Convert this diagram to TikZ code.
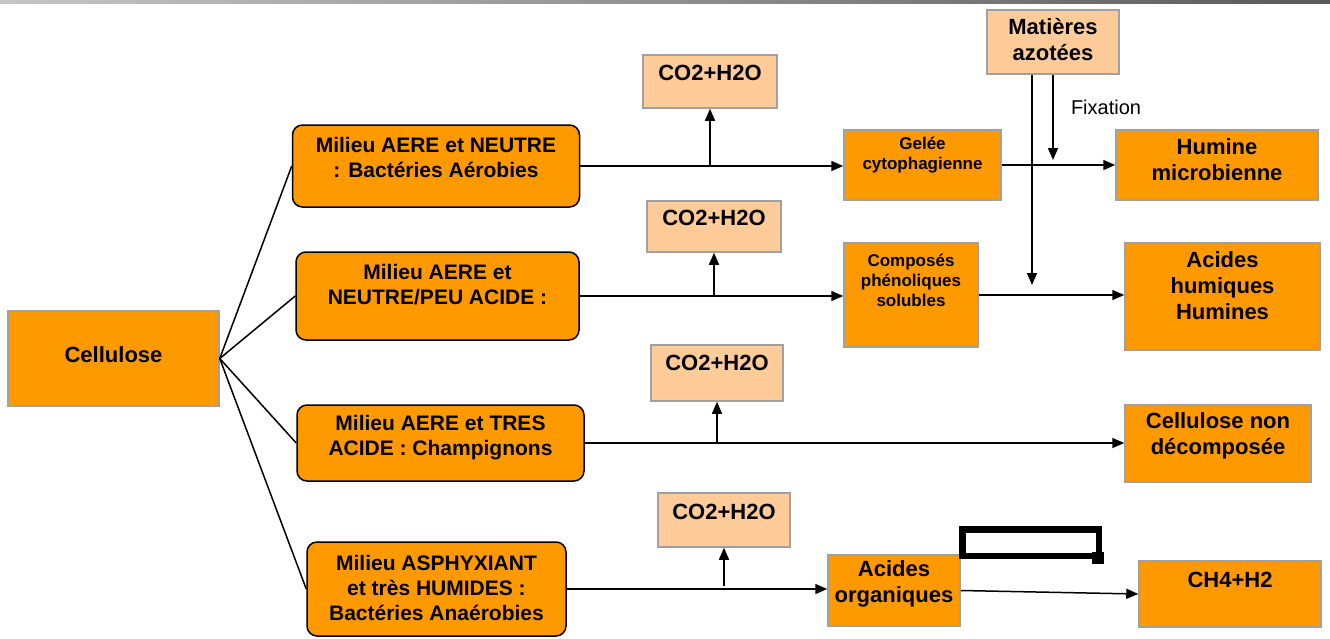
\documentclass[tikz,border=0pt]{standalone}
\usepackage{fontspec}
\setmainfont{Liberation Sans}
\usetikzlibrary{arrows.meta,calc}
\definecolor{orangeF}{HTML}{FF9900}
\definecolor{lightO}{HTML}{FFCC99}
\definecolor{grayB}{HTML}{A0A0A0}
\tikzset{
  obox/.style={rectangle,fill=orangeF,draw=grayB,line width=1.5pt,inner sep=0pt},
  lbox/.style={rectangle,fill=lightO,draw=grayB,line width=1.5pt,inner sep=0pt},
  mbox/.style={rectangle,rounded corners=10pt,fill=orangeF,draw=black,line width=1.5pt,inner sep=0pt},
  big/.style={align=center,inner sep=0pt,font=\fontsize{22}{26}\selectfont\bfseries},
  mid/.style={align=center,inner sep=0pt,font=\fontsize{21}{25}\selectfont\bfseries},
  small/.style={align=center,inner sep=0pt,font=\fontsize{17}{20}\selectfont\bfseries},
  arr/.style={-{Triangle[length=12pt,width=10pt]},line width=1.5pt},
  ln/.style={line width=1.5pt}
}
\begin{document}
\begin{tikzpicture}[x=1pt,y=-1pt]
\useasboundingbox (0,0) rectangle (1330,638);
\shade[left color=gray!45,right color=black!65] (0,0) rectangle (1330,3);
% boxes
\node[obox,minimum width=211pt,minimum height=95pt] (cel) at (113.5,358.5) {};
\node[mbox,minimum width=287pt,minimum height=82pt] (m1) at (436,166) {};
\node[mbox,minimum width=283pt,minimum height=88pt] (m2) at (437.5,296) {};
\node[mbox,minimum width=287pt,minimum height=76pt] (m3) at (440.5,443) {};
\node[mbox,minimum width=259pt,minimum height=94pt] (m4) at (436.5,589) {};
\node[lbox,minimum width=134pt,minimum height=53pt] (co1) at (710,81.5) {};
\node[lbox,minimum width=134pt,minimum height=51pt] (co2) at (714,226.5) {};
\node[lbox,minimum width=132pt,minimum height=56pt] (co3) at (717,373) {};
\node[lbox,minimum width=132pt,minimum height=54pt] (co4) at (724,520) {};
\node[obox,minimum width=157pt,minimum height=70pt] (gel) at (922.5,165) {};
\node[obox,minimum width=134pt,minimum height=104pt] (comp) at (911,295) {};
\node[obox,minimum width=202pt,minimum height=70pt] (hum) at (1217,165) {};
\node[obox,minimum width=195pt,minimum height=107pt] (ah) at (1222.5,296.5) {};
\node[obox,minimum width=186pt,minimum height=77pt] (cnd) at (1218,443.5) {};
\node[obox,minimum width=132pt,minimum height=71pt] (ao) at (894,590.5) {};
\node[obox,minimum width=182pt,minimum height=66pt] (ch4) at (1230,594) {};
\node[lbox,minimum width=132pt,minimum height=64pt] (mat) at (1053,42) {};
% texts
\node[big] (tcel) at (113.5,355) {Cellulose};
\node[mid] (tm1) at (436,157) {Milieu AERE et NEUTRE\\: Bactéries Aérobies};
\node[mid] (tm2) at (437.5,285) {Milieu AERE et\\NEUTRE/PEU ACIDE :};
\node[mid] (tm3) at (440.5,438) {Milieu AERE et TRES\\ACIDE : Champignons};
\node[mid] (tm4) at (436.5,588) {Milieu ASPHYXIANT\\et très HUMIDES :\\Bactéries Anaérobies};
\node[big] (tco1) at (710,73) {CO2+H2O};
\node[big] (tco2) at (714,218) {CO2+H2O};
\node[big] (tco3) at (717,363) {CO2+H2O};
\node[big] (tco4) at (724,512) {CO2+H2O};
\node[small] (tgel) at (922.5,155) {Gelée\\cytophagienne};
\node[small] (tcomp) at (911,280) {Composés\\phénoliques\\solubles};
\node[big] (thum) at (1217,160) {Humine\\microbienne};
\node[big] (tah) at (1222.5,286) {Acides\\humiques\\Humines};
\node[big] (tcnd) at (1218,436) {Cellulose non\\décomposée};
\node[big] (tao) at (894,584) {Acides\\organiques};
\node[big] (tch4) at (1230,580) {CH4+H2};
\node[big] (tmat) at (1053,40) {Matières\\azotées};
\node[inner sep=0pt,font=\fontsize{20}{24}\selectfont] (fix) at (1106,107) {Fixation};
% fan
\foreach \m in {m1,m2,m3,m4} \draw[ln] (cel.east) -- (\m.west);
% rows
\draw[arr] (m1.east) -- (m1.east -| gel.west);
\draw[arr] (gel.east) -- (gel.east -| hum.west);
\draw[arr] (m2.east) -- (m2.east -| comp.west);
\draw[arr] (comp.east) -- (comp.east -| ah.west);
\draw[arr] (m3.east) -- (m3.east -| cnd.west);
\draw[arr] (m4.east) -- (m4.east -| ao.west);
\draw[arr] (ao.east) -- (ch4.west);
% up arrows
\coordinate (u1) at (co1.south |- m1.east);
\coordinate (u2) at (co2.south |- m2.east);
\coordinate (u3) at (co3.south |- m3.east);
\coordinate (u4) at (724,586);
\draw[arr] (u1) -- (co1.south);
\draw[arr] (u2) -- (co2.south);
\draw[arr] (u3) -- (co3.south);
\draw[arr] (u4) -- (co4.south);
% Matieres lines
\coordinate (f1) at (1032,285);
\coordinate (f2) at (1053,160);
\draw[arr] (mat.south -| f1) -- (f1);
\draw[arr] (mat.south -| f2) -- (f2);
% black bracket rectangle
\draw[line width=6.5pt] (962.5,529.5) rectangle (1099,556);
\fill (1092,552) rectangle (1104,564);
\end{tikzpicture}
\end{document}
